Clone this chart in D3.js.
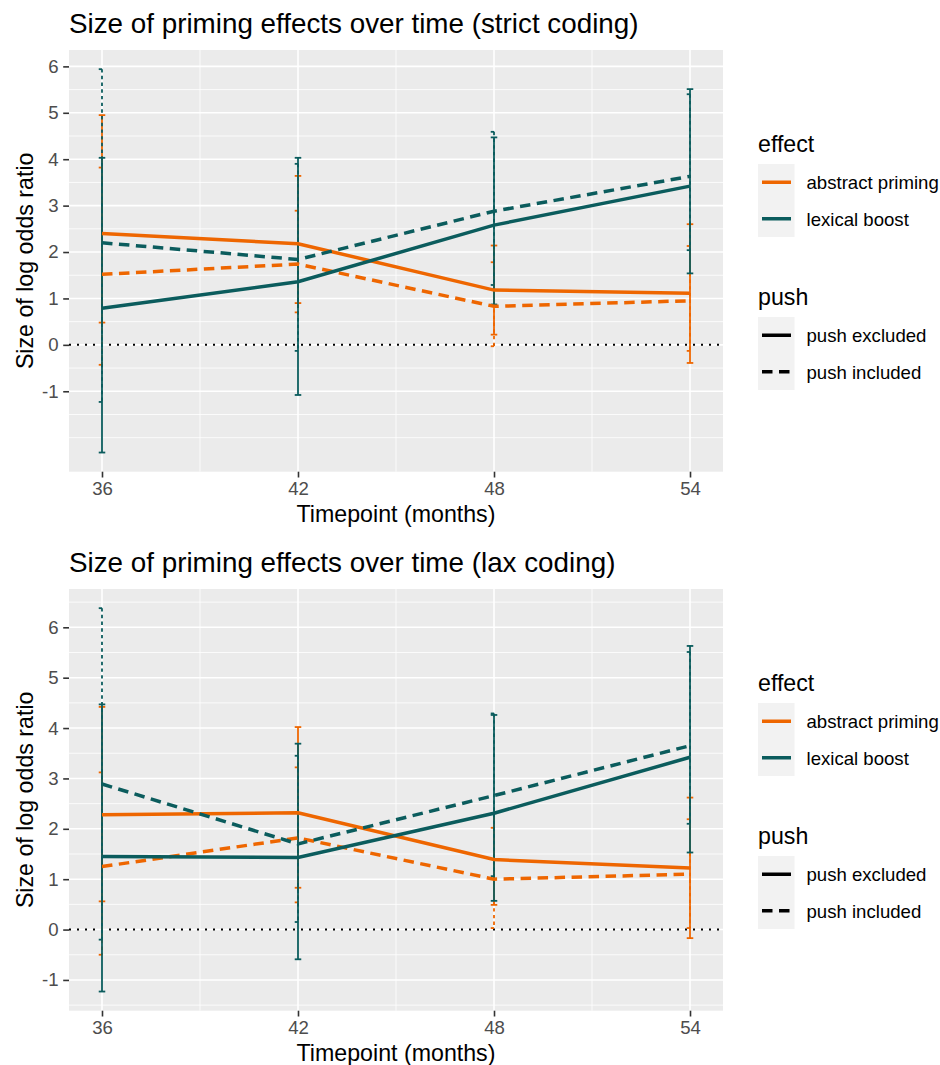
<!DOCTYPE html>
<html>
<head>
<meta charset="utf-8">
<script src="https://cdn.jsdelivr.net/npm/d3@7"></script>
<style>
  body { margin: 0; background: #fff; }
  text { font-family: "Liberation Sans", Arial, sans-serif; }
</style>
</head>
<body>
<div id="chart"></div>
<script>

// data
var timepoints = [36, 42, 48, 54];
var effects = ["abstract priming", "lexical boost"];
var pushLevels = ["push excluded", "push included"];
var yBreaks = [-1, 0, 1, 2, 3, 4, 5, 6];

// strict coding
var strictAbsExclMean = [2.40, 2.18, 1.18, 1.11];
var strictAbsExclLow  = [0.48, 0.90, 0.22, -0.39];
var strictAbsExclHigh = [4.95, 3.64, 2.14, 2.60];
var strictAbsInclMean = [1.52, 1.74, 0.83, 0.95];
var strictAbsInclLow  = [-0.43, 0.70, -0.03, -0.13];
var strictAbsInclHigh = [3.82, 2.89, 1.78, 2.13];
var strictLexExclMean = [0.79, 1.36, 2.58, 3.42];
var strictLexExclLow  = [-2.32, -1.08, 0.87, 1.54];
var strictLexExclHigh = [4.03, 4.03, 4.47, 5.51];
var strictLexInclMean = [2.20, 1.84, 2.88, 3.63];
var strictLexInclLow  = [-1.23, -0.13, 1.29, 2.04];
var strictLexInclHigh = [5.94, 3.90, 4.59, 5.40];

// lax coding
var laxAbsExclMean = [2.28, 2.32, 1.39, 1.22];
var laxAbsExclLow  = [0.56, 0.83, 0.49, -0.17];
var laxAbsExclHigh = [4.42, 4.02, 2.31, 2.62];
var laxAbsInclMean = [1.25, 1.82, 1.00, 1.10];
var laxAbsInclLow  = [-0.50, 0.54, 0.03, 0.03];
var laxAbsInclHigh = [3.12, 3.22, 2.02, 2.19];
var laxLexExclMean = [1.45, 1.43, 2.31, 3.42];
var laxLexExclLow  = [-1.23, -0.59, 0.57, 1.53];
var laxLexExclHigh = [4.47, 3.69, 4.26, 5.63];
var laxLexInclMean = [2.89, 1.70, 2.66, 3.65];
var laxLexInclLow  = [-0.20, 0.15, 1.06, 2.10];
var laxLexInclHigh = [6.38, 3.45, 4.29, 5.51];

var color = d3.scaleOrdinal().domain(effects).range(["#EE6600", "#0B5C5D"]);
var lineDash = d3.scaleOrdinal().domain(pushLevels).range(["none", "10.5,6.5"]);
var barDash = d3.scaleOrdinal().domain(pushLevels).range(["none", "3.4,3.3"]);

function makeSeries(rows) {
  // rows in group order: abstract/excl, abstract/incl, lexical/excl, lexical/incl
  var out = [];
  rows.forEach(function(r, i) {
    out.push({
      effect: effects[Math.floor(i / 2)],
      push: pushLevels[i % 2],
      values: timepoints.map(function(t, j) {
        return {t: t, mean: r[0][j], low: r[1][j], high: r[2][j]};
      })
    });
  });
  return out;
}

var strictSeries = makeSeries([
  [strictAbsExclMean, strictAbsExclLow, strictAbsExclHigh],
  [strictAbsInclMean, strictAbsInclLow, strictAbsInclHigh],
  [strictLexExclMean, strictLexExclLow, strictLexExclHigh],
  [strictLexInclMean, strictLexInclLow, strictLexInclHigh]
]);
var laxSeries = makeSeries([
  [laxAbsExclMean, laxAbsExclLow, laxAbsExclHigh],
  [laxAbsInclMean, laxAbsInclLow, laxAbsInclHigh],
  [laxLexExclMean, laxLexExclLow, laxLexExclHigh],
  [laxLexInclMean, laxLexInclLow, laxLexInclHigh]
]);

var W = 940, H = 1065;
var svg = d3.select("#chart").append("svg")
    .attr("width", W)
    .attr("height", H);
svg.append("rect").attr("width", W).attr("height", H).attr("fill", "#fff");

var panelLeft = 69, panelRight = 723, panelH = 421.7;
var barWidth = 0.2;

function expand(lo, hi) {
  var pad = (hi - lo) * 0.05;
  return [lo - pad, hi + pad];
}

function drawPanel(top, title, series) {
  var g = svg.append("g");

  var x = d3.scaleLinear()
      .domain(expand(d3.min(timepoints) - barWidth / 2, d3.max(timepoints) + barWidth / 2))
      .range([panelLeft, panelRight]);

  var allVals = [];
  series.forEach(function(s) {
    s.values.forEach(function(v) { allVals.push(v.low, v.high, v.mean); });
  });
  var y = d3.scaleLinear()
      .domain(expand(d3.min(allVals), d3.max(allVals)))
      .range([top + panelH, top]);

  // panel
  g.append("rect")
      .attr("x", panelLeft).attr("y", top)
      .attr("width", panelRight - panelLeft).attr("height", panelH)
      .attr("fill", "#EBEBEB");

  // minor grid
  var yMinor = d3.range(-2, 7.01, 0.5).filter(function(d) {
    return yBreaks.indexOf(d) < 0 && d >= y.domain()[0] && d <= y.domain()[1];
  });
  var xMinor = [39, 45, 51];
  g.selectAll(".ymin").data(yMinor).enter().append("line")
      .attr("x1", panelLeft).attr("x2", panelRight)
      .attr("y1", function(d) { return y(d); }).attr("y2", function(d) { return y(d); })
      .attr("stroke", "#fff").attr("stroke-width", 0.8);
  g.selectAll(".xmin").data(xMinor).enter().append("line")
      .attr("y1", top).attr("y2", top + panelH)
      .attr("x1", function(d) { return x(d); }).attr("x2", function(d) { return x(d); })
      .attr("stroke", "#fff").attr("stroke-width", 0.8);

  // major grid
  g.selectAll(".ymaj").data(yBreaks).enter().append("line")
      .attr("x1", panelLeft).attr("x2", panelRight)
      .attr("y1", function(d) { return y(d); }).attr("y2", function(d) { return y(d); })
      .attr("stroke", "#fff").attr("stroke-width", 1.6);
  g.selectAll(".xmaj").data(timepoints).enter().append("line")
      .attr("y1", top).attr("y2", top + panelH)
      .attr("x1", function(d) { return x(d); }).attr("x2", function(d) { return x(d); })
      .attr("stroke", "#fff").attr("stroke-width", 1.6);

  // zero line
  g.append("line")
      .attr("x1", panelLeft).attr("x2", panelRight)
      .attr("y1", y(0)).attr("y2", y(0))
      .attr("stroke", "#000").attr("stroke-width", 2)
      .attr("stroke-dasharray", "2,6");

  // error bars: top cap, stem, bottom cap drawn as separate pieces
  series.forEach(function(s) {
    var eb = g.append("g")
        .attr("stroke", color(s.effect))
        .attr("stroke-width", 1.8)
        .attr("stroke-dasharray", barDash(s.push))
        .attr("fill", "none");
    s.values.forEach(function(v) {
      var x0 = x(v.t - barWidth / 2), x1 = x(v.t + barWidth / 2);
      eb.append("line").attr("x1", x0).attr("x2", x1).attr("y1", y(v.high)).attr("y2", y(v.high));
      eb.append("line").attr("x1", x(v.t)).attr("x2", x(v.t)).attr("y1", y(v.high)).attr("y2", y(v.low));
      eb.append("line").attr("x1", x0).attr("x2", x1).attr("y1", y(v.low)).attr("y2", y(v.low));
    });
  });

  // lines
  var line = d3.line()
      .x(function(d) { return x(d.t); })
      .y(function(d) { return y(d.mean); });
  series.forEach(function(s) {
    g.append("path")
        .datum(s.values)
        .attr("d", line)
        .attr("fill", "none")
        .attr("stroke", color(s.effect))
        .attr("stroke-width", 3.5)
        .attr("stroke-dasharray", lineDash(s.push));
  });

  // axes
  var yAxis = d3.axisLeft(y).tickValues(yBreaks).tickSize(5.8).tickPadding(4.6).tickSizeOuter(0)
      .tickFormat(function(d) { return String(d); });
  var xAxis = d3.axisBottom(x).tickValues(timepoints).tickSize(5.8).tickPadding(4.6).tickSizeOuter(0);

  var ya = g.append("g")
      .attr("transform", "translate(" + panelLeft + ",0)")
      .call(yAxis);
  var xa = g.append("g")
      .attr("transform", "translate(0," + (top + panelH) + ")")
      .call(xAxis);
  [ya, xa].forEach(function(a) {
    a.select(".domain").remove();
    a.selectAll(".tick line").attr("stroke", "#333").attr("stroke-width", 1.6);
    a.selectAll(".tick text")
        .attr("fill", "#4D4D4D")
        .style("font-size", "18.6px")
        .style("font-family", "'Liberation Sans', Arial, sans-serif");
  });

  // titles
  g.append("text")
      .attr("x", panelLeft).attr("y", top - 17)
      .style("font-size", "27.8px")
      .text(title);
  g.append("text")
      .attr("x", (panelLeft + panelRight) / 2).attr("y", top + panelH + 50)
      .attr("text-anchor", "middle")
      .style("font-size", "23.2px")
      .text("Timepoint (months)");
  g.append("text")
      .attr("transform", "translate(33," + (top + panelH / 2) + ") rotate(-90)")
      .attr("text-anchor", "middle")
      .style("font-size", "23.2px")
      .text("Size of log odds ratio");

  // legends
  var lx = 758, keyW = 36.5, keyH = 36.5;
  function legendBlock(titleY, name, items, styler) {
    g.append("text").attr("x", lx).attr("y", titleY)
        .style("font-size", "23.2px").text(name);
    var ky = titleY + 12;
    g.append("rect").attr("x", lx).attr("y", ky)
        .attr("width", keyW).attr("height", keyH * items.length)
        .attr("fill", "#F2F2F2");
    items.forEach(function(it, i) {
      var cy = ky + keyH * i + keyH / 2;
      var l = g.append("line")
          .attr("x1", lx + 4).attr("x2", lx + keyW - 3.5)
          .attr("y1", cy).attr("y2", cy)
          .attr("stroke-width", 3.5);
      styler(l, it);
      g.append("text").attr("x", lx + keyW + 12).attr("y", cy + 7)
          .style("font-size", "18.6px").text(it);
    });
  }
  legendBlock(top + 102, "effect", effects, function(l, it) {
    l.attr("stroke", color(it));
  });
  legendBlock(top + 255, "push", pushLevels, function(l, it) {
    l.attr("stroke", "#000").attr("stroke-dasharray", lineDash(it));
  });
}

drawPanel(50, "Size of priming effects over time (strict coding)", strictSeries);
drawPanel(589, "Size of priming effects over time (lax coding)", laxSeries);

</script>
</body>
</html>
